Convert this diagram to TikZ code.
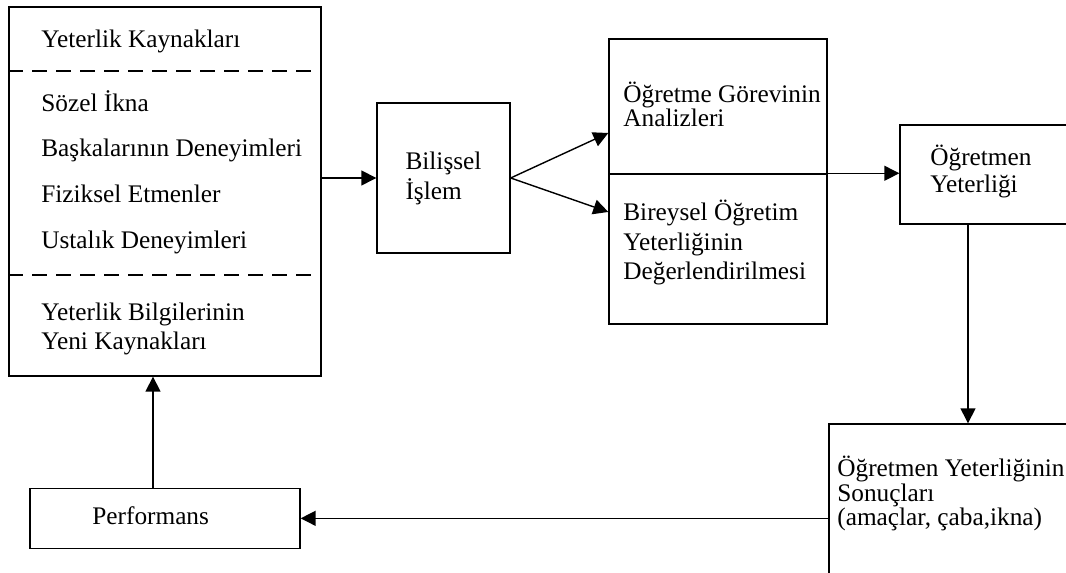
\documentclass[tikz,border=0pt]{standalone}
\usepackage{fontspec}
\setmainfont{Liberation Serif}
\usepackage{tikz}
\usetikzlibrary{arrows.meta,positioning}

\begin{document}
\begin{tikzpicture}[x=0.02cm, y=-0.02cm]
% STYLES
\tikzset{%
    box/.style={%
    draw,
    rectangle,
    line width=0.8pt,
    inner sep=0pt}
    }
\tikzset{%
    lbl/.style={%
    anchor=base west,
    align=left,
    inner sep=0pt,
    font=\fontsize{14.4}{17}\selectfont}
    }
\tikzset{%
    arr/.style={%
    -{Triangle[length=0.3cm,width=0.3cm]},
    line width=0.8pt}
    }
\tikzset{%
    cut/.style={%
    line width=1.3pt,
    dash pattern=on 0.3cm off 0.18cm}
    }
\useasboundingbox (0,0) rectangle (1066,573);
\clip (0,0) rectangle (1066,573);

% Draw boxes
\node [box, minimum width=6.24cm, minimum height=7.38cm] (Kaynak) at (165,191.5) {};
\node [box, minimum width=2.66cm, minimum height=3cm, align=left,
       font=\fontsize{14.4}{17}\selectfont] (Bilissel) at (443.5,178) {Bilişsel\\İşlem};
\node [box, minimum width=4.36cm, minimum height=2.7cm] (GorevA) at (718,106.5) {};
\node [box, minimum width=4.36cm, minimum height=3cm, below=-0.8pt of GorevA] (GorevB) {};
\node [box, minimum width=4cm, minimum height=1.98cm] (Yeterlik) at (1000,174.5) {};
\node [box, minimum width=5.42cm, minimum height=3.52cm] (Sonuc) at (964.5,512) {};
\node [box, minimum width=5.4cm, minimum height=1.2cm, below=2.22cm of Kaynak] (Perf) {};

% Texts (base = last line)
\node [lbl] (KaynakHead) at (41,48) {Yeterlik Kaynakları};
\node [lbl] (Sozel) at (41,112) {Sözel İkna};
\node [lbl] (Baskalari) at (41,157) {Başkalarının Deneyimleri};
\node [lbl] (Fiziksel) at (41,203) {Fiziksel Etmenler};
\node [lbl] (Ustalik) at (41,249) {Ustalık Deneyimleri};
\node [lbl] (YeniKaynak) at (41,350) {Yeterlik Bilgilerinin\\Yeni Kaynakları};
\node [lbl, font=\fontsize{14.4}{14}\selectfont] (GorevAText) at (623,127) {Öğretme Görevinin\\Analizleri};
\node [lbl] (GorevBText) at (623,280) {Bireysel Öğretim\\Yeterliğinin\\Değerlendirilmesi};
\node [lbl, font=\fontsize{14.4}{15.9}\selectfont] (YeterlikText) at (930,193) {Öğretmen\\Yeterliği};
\node [lbl, font=\fontsize{14.4}{14}\selectfont] (SonucText) at (837,526) {Öğretmen Yeterliğinin\\Sonuçları\\(amaçlar, çaba,ikna)};
\node [lbl] (PerfText) at (92,525) {Performans};

% Dashed cuts in the sources box
\coordinate (CutA) at (0,71);
\coordinate (CutB) at (0,275);
\draw [cut] (Kaynak.west |- CutA) -- (Kaynak.east |- CutA);
\draw [cut] (Kaynak.west |- CutB) -- (Kaynak.east |- CutB);

% Draw the links
\draw [arr] (Kaynak.east |- Bilissel.west) -- (Bilissel.west);
\draw [arr] (Bilissel.east) -- ([yshift=-0.53cm]GorevA.west);
\draw [arr] (Bilissel.east) -- ([yshift=0.74cm]GorevB.west);
\draw [arr] (GorevB.north east) -- (GorevB.north east -| Yeterlik.west);
\draw [arr] ([xshift=-0.64cm]Yeterlik.south) -- ([xshift=-0.64cm]Yeterlik.south |- Sonuc.north);
\draw [arr] (Perf.east -| Sonuc.west) -- (Perf.east);
\draw [arr] ([xshift=-0.24cm]Perf.north) -- ([xshift=-0.24cm]Perf.north |- Kaynak.south);

\end{tikzpicture}
\end{document}
